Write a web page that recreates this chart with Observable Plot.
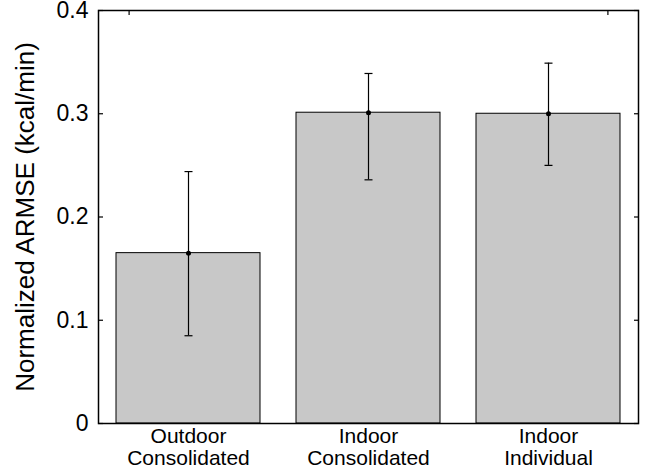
<!DOCTYPE html>
<html>
<head>
<meta charset="utf-8">
<script src="https://cdn.jsdelivr.net/npm/d3@7"></script>
<script src="https://cdn.jsdelivr.net/npm/@observablehq/plot@0.6"></script>
<style>
  html, body { margin: 0; padding: 0; background: #fff; }
  svg { display: block; }
</style>
</head>
<body>
<div id="chart"></div>
<script>
const categories = ["Outdoor\nConsolidated", "Indoor\nConsolidated", "Indoor\nIndividual"];
const positions = [1, 2, 3];
const means = [0.165, 0.301, 0.300];
const lows = [0.085, 0.236, 0.250];
const highs = [0.244, 0.339, 0.349];
const yTicks = [0, 0.1, 0.2, 0.3, 0.4];
const topTicks = [0.67, 3.33];
const yLabel = "Normalized ARMSE (kcal/min)";

const data = positions.map((p, i) => ({pos: p, cat: categories[i], mean: means[i], lo: lows[i], hi: highs[i]}));

const capSymbol = {
  draw(ctx) { ctx.moveTo(-4, 0); ctx.lineTo(4, 0); }
};

const chart = Plot.plot({
  width: 647,
  height: 476,
  marginLeft: 98,
  marginRight: 9,
  marginTop: 10,
  marginBottom: 53,
  style: {fontFamily: "Liberation Sans, Arial, sans-serif", background: "#fff", color: "#000"},
  x: {type: "linear", domain: [0.5, 3.5]},
  y: {domain: [0, 0.4]},
  marks: [
    Plot.rectY(data, {x1: d => d.pos - 0.4, x2: d => d.pos + 0.4, y1: 0, y2: "mean", fill: "#c8c8c8", stroke: "#000", strokeWidth: 1}),
    Plot.ruleX(data, {x: "pos", y1: "lo", y2: "hi", stroke: "#000", strokeWidth: 1.2}),
    Plot.dot(data, {x: "pos", y: "lo", symbol: capSymbol, stroke: "#000", strokeWidth: 1.2, fill: "none"}),
    Plot.dot(data, {x: "pos", y: "hi", symbol: capSymbol, stroke: "#000", strokeWidth: 1.2, fill: "none"}),
    Plot.dot(data, {x: "pos", y: "mean", r: 2.5, fill: "#000", stroke: "none"}),
    Plot.axisY({ticks: yTicks, tickSize: 0, tickPadding: 10, tickFormat: d => d === 0 ? "0" : String(d), fontSize: 23, label: null}),
    Plot.axisY({anchor: "left", ticks: yTicks, tickSize: -5, text: null, label: null, strokeWidth: 1.2}),
    Plot.axisY({anchor: "right", ticks: yTicks, tickSize: -5, text: null, label: null, strokeWidth: 1.2}),
    Plot.axisX({anchor: "top", ticks: topTicks, tickSize: -4, text: null, label: null, strokeWidth: 1.2}),
    Plot.axisX({anchor: "bottom", ticks: positions, tickSize: 0, tickPadding: 4, tickFormat: d => categories[d - 1], fontSize: 21, lineHeight: 1.05, label: null}),
    Plot.text([yLabel], {frameAnchor: "left", rotate: -90, dx: -73, fontSize: 26, text: d => d, textAnchor: "middle", lineAnchor: "middle", fill: "#000"}),
    Plot.frame({stroke: "#000", strokeWidth: 1.5})
  ]
});
document.getElementById("chart").appendChild(chart);
</script>
</body>
</html>
